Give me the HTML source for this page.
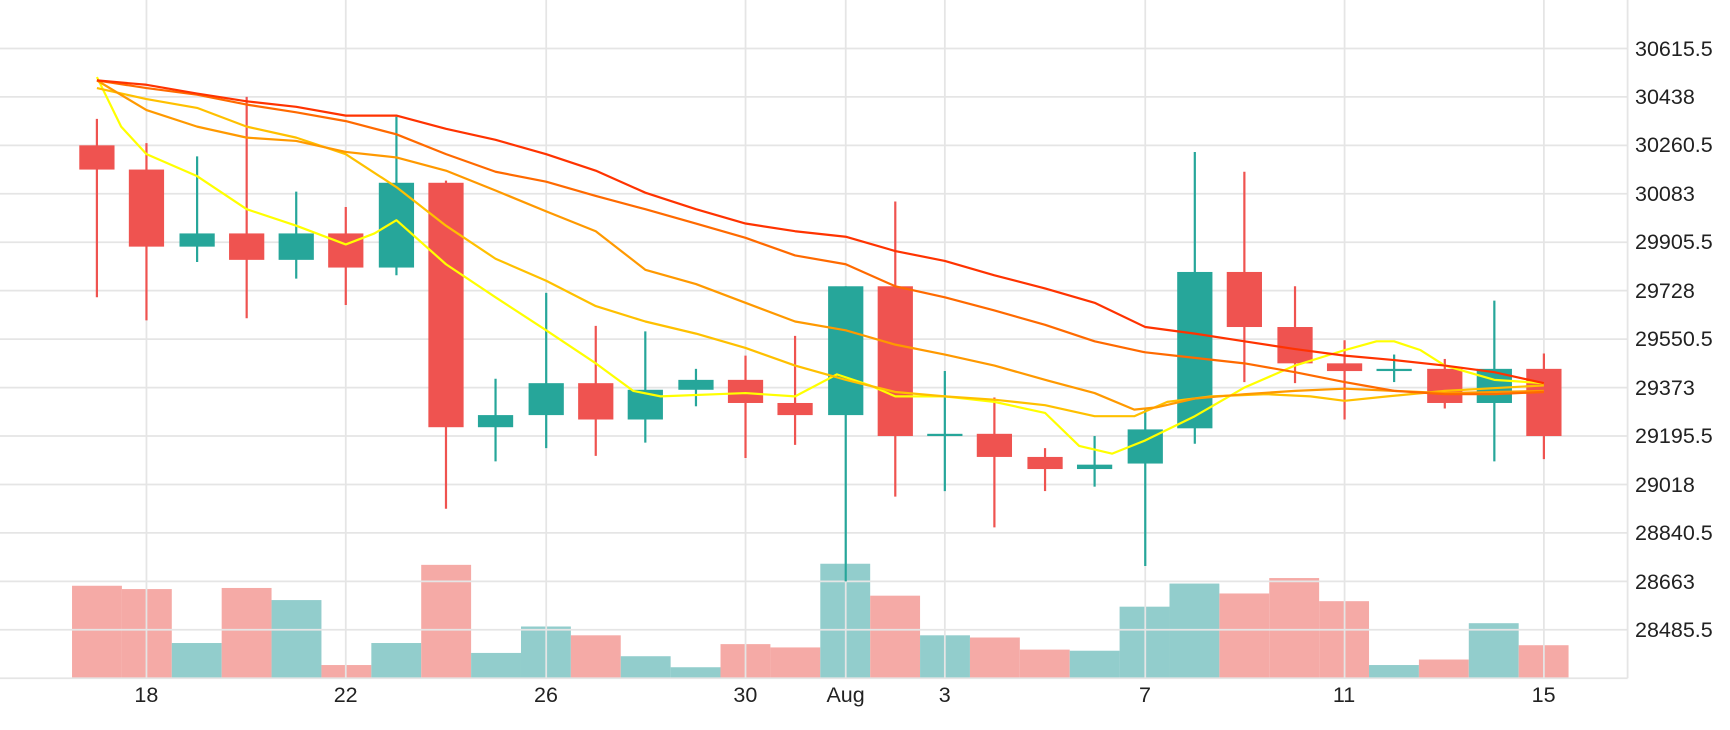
<!DOCTYPE html>
<html><head><meta charset="utf-8"><style>
body{margin:0;background:#fff;width:1730px;height:730px;overflow:hidden;position:relative;font-family:"Liberation Sans",sans-serif}
svg{position:absolute;left:0;top:0}
.yl{position:absolute;left:1635px;font-size:21.5px;color:#222;line-height:22px;margin-top:-11px}
.xl{position:absolute;top:684px;width:60px;margin-left:-30px;text-align:center;font-size:21.5px;color:#222;line-height:22px}
</style></head><body>
<svg width="1730" height="730" viewBox="0 0 1571 663" preserveAspectRatio="none">
<g id="vol">
<rect x="65.4" y="532" width="45.3" height="84" fill="#f5aaa6"/>
<rect x="110.7" y="535" width="45.3" height="81" fill="#f5aaa6"/>
<rect x="156" y="584" width="45.3" height="32" fill="#92cdcc"/>
<rect x="201.3" y="534" width="45.3" height="82" fill="#f5aaa6"/>
<rect x="246.6" y="545" width="45.3" height="71" fill="#92cdcc"/>
<rect x="291.9" y="604" width="45.3" height="12" fill="#f5aaa6"/>
<rect x="337.2" y="584" width="45.3" height="32" fill="#92cdcc"/>
<rect x="382.5" y="513" width="45.3" height="103" fill="#f5aaa6"/>
<rect x="427.8" y="593" width="45.3" height="23" fill="#92cdcc"/>
<rect x="473.1" y="569" width="45.3" height="47" fill="#92cdcc"/>
<rect x="518.4" y="577" width="45.3" height="39" fill="#f5aaa6"/>
<rect x="563.7" y="596" width="45.3" height="20" fill="#92cdcc"/>
<rect x="609" y="606" width="45.3" height="10" fill="#92cdcc"/>
<rect x="654.3" y="585" width="45.3" height="31" fill="#f5aaa6"/>
<rect x="699.6" y="588" width="45.3" height="28" fill="#f5aaa6"/>
<rect x="744.9" y="512" width="45.3" height="104" fill="#92cdcc"/>
<rect x="790.2" y="541" width="45.3" height="75" fill="#f5aaa6"/>
<rect x="835.5" y="577" width="45.3" height="39" fill="#92cdcc"/>
<rect x="880.8" y="579" width="45.3" height="37" fill="#f5aaa6"/>
<rect x="926.1" y="590" width="45.3" height="26" fill="#f5aaa6"/>
<rect x="971.4" y="591" width="45.3" height="25" fill="#92cdcc"/>
<rect x="1016.7" y="551" width="45.3" height="65" fill="#92cdcc"/>
<rect x="1062" y="530" width="45.3" height="86" fill="#92cdcc"/>
<rect x="1107.3" y="539" width="45.3" height="77" fill="#f5aaa6"/>
<rect x="1152.6" y="525" width="45.3" height="91" fill="#f5aaa6"/>
<rect x="1197.9" y="546" width="45.3" height="70" fill="#f5aaa6"/>
<rect x="1243.2" y="604" width="45.3" height="12" fill="#92cdcc"/>
<rect x="1288.5" y="599" width="45.3" height="17" fill="#f5aaa6"/>
<rect x="1333.8" y="566" width="45.3" height="50" fill="#92cdcc"/>
<rect x="1379.1" y="586" width="45.3" height="30" fill="#f5aaa6"/>
</g>
<g stroke="#e5e5e5" stroke-width="1.6" fill="none">
<path d="M0 44H1478M0 88H1478M0 132H1478M0 176H1478M0 220H1478M0 264H1478M0 308H1478M0 352H1478M0 396H1478M0 440H1478M0 484H1478M0 528H1478M0 572H1478M0 616H1478"/>
<path d="M133 0V616M314 0V616M496 0V616M677 0V616M768 0V616M858 0V616M1040 0V616M1221 0V616M1402 0V616M1478 0V616"/>
</g>
<g stroke-width="2">
<line x1="88" y1="108" x2="88" y2="270" stroke="#ef5350"/>
<line x1="133" y1="130" x2="133" y2="291" stroke="#ef5350"/>
<line x1="179" y1="142" x2="179" y2="238" stroke="#26a69a"/>
<line x1="224" y1="88" x2="224" y2="289" stroke="#ef5350"/>
<line x1="269" y1="174" x2="269" y2="253" stroke="#26a69a"/>
<line x1="314" y1="188" x2="314" y2="277" stroke="#ef5350"/>
<line x1="360" y1="106" x2="360" y2="250" stroke="#26a69a"/>
<line x1="405" y1="164" x2="405" y2="462" stroke="#ef5350"/>
<line x1="450" y1="344" x2="450" y2="419" stroke="#26a69a"/>
<line x1="496" y1="266" x2="496" y2="407" stroke="#26a69a"/>
<line x1="541" y1="296" x2="541" y2="414" stroke="#ef5350"/>
<line x1="586" y1="301" x2="586" y2="402" stroke="#26a69a"/>
<line x1="632" y1="335" x2="632" y2="369" stroke="#26a69a"/>
<line x1="677" y1="323" x2="677" y2="416" stroke="#ef5350"/>
<line x1="722" y1="305" x2="722" y2="404" stroke="#ef5350"/>
<line x1="768" y1="260" x2="768" y2="528" stroke="#26a69a"/>
<line x1="813" y1="183" x2="813" y2="451" stroke="#ef5350"/>
<line x1="858" y1="337" x2="858" y2="446" stroke="#26a69a"/>
<line x1="903" y1="361" x2="903" y2="479" stroke="#ef5350"/>
<line x1="949" y1="407" x2="949" y2="446" stroke="#ef5350"/>
<line x1="994" y1="396" x2="994" y2="442" stroke="#26a69a"/>
<line x1="1040" y1="372" x2="1040" y2="514" stroke="#26a69a"/>
<line x1="1085" y1="138" x2="1085" y2="403" stroke="#26a69a"/>
<line x1="1130" y1="156" x2="1130" y2="347" stroke="#ef5350"/>
<line x1="1176" y1="260" x2="1176" y2="348" stroke="#ef5350"/>
<line x1="1221" y1="309" x2="1221" y2="381" stroke="#ef5350"/>
<line x1="1266" y1="322" x2="1266" y2="347" stroke="#26a69a"/>
<line x1="1312" y1="326" x2="1312" y2="371" stroke="#ef5350"/>
<line x1="1357" y1="273" x2="1357" y2="419" stroke="#26a69a"/>
<line x1="1402" y1="321" x2="1402" y2="417" stroke="#ef5350"/>
</g>
<g>
<rect x="72" y="132" width="32" height="22" fill="#ef5350"/>
<rect x="117" y="154" width="32" height="70" fill="#ef5350"/>
<rect x="163" y="212" width="32" height="12" fill="#26a69a"/>
<rect x="208" y="212" width="32" height="24" fill="#ef5350"/>
<rect x="253" y="212" width="32" height="24" fill="#26a69a"/>
<rect x="298" y="212" width="32" height="31" fill="#ef5350"/>
<rect x="344" y="166" width="32" height="77" fill="#26a69a"/>
<rect x="389" y="166" width="32" height="222" fill="#ef5350"/>
<rect x="434" y="377" width="32" height="11" fill="#26a69a"/>
<rect x="480" y="348" width="32" height="29" fill="#26a69a"/>
<rect x="525" y="348" width="32" height="33" fill="#ef5350"/>
<rect x="570" y="354" width="32" height="27" fill="#26a69a"/>
<rect x="616" y="345" width="32" height="9" fill="#26a69a"/>
<rect x="661" y="345" width="32" height="21" fill="#ef5350"/>
<rect x="706" y="366" width="32" height="11" fill="#ef5350"/>
<rect x="752" y="260" width="32" height="117" fill="#26a69a"/>
<rect x="797" y="260" width="32" height="136" fill="#ef5350"/>
<rect x="842" y="394" width="32" height="2" fill="#26a69a"/>
<rect x="887" y="394" width="32" height="21" fill="#ef5350"/>
<rect x="933" y="415" width="32" height="11" fill="#ef5350"/>
<rect x="978" y="422" width="32" height="4" fill="#26a69a"/>
<rect x="1024" y="390" width="32" height="31" fill="#26a69a"/>
<rect x="1069" y="247" width="32" height="142" fill="#26a69a"/>
<rect x="1114" y="247" width="32" height="50" fill="#ef5350"/>
<rect x="1160" y="297" width="32" height="33" fill="#ef5350"/>
<rect x="1205" y="330" width="32" height="7" fill="#ef5350"/>
<rect x="1250" y="335" width="32" height="2" fill="#26a69a"/>
<rect x="1296" y="335" width="32" height="31" fill="#ef5350"/>
<rect x="1341" y="335" width="32" height="31" fill="#26a69a"/>
<rect x="1386" y="335" width="32" height="61" fill="#ef5350"/>
</g>
<g fill="none" stroke-width="2" stroke-linejoin="round">
<polyline stroke="#ffff00" points="88,70 110,115 133,140 179,160 224,190 269,205 314,222 340,212 360,200 405,240 450,270 496,300 541,330 575,355 600,360 677,357 722,360 760,340 790,350 813,360 858,360 903,365 949,375 980,405 1010,412 1040,400 1085,378 1130,352 1176,332 1221,318 1250,310 1266,310 1290,318 1312,332 1357,345 1402,348"/>
<polyline stroke="#ffc000" points="88,80 133,90 179,98 224,115 269,125 314,140 360,170 405,205 450,235 496,255 541,278 586,292 632,303 677,316 722,332 768,345 813,356 858,360 903,363 949,368 994,378 1030,378 1060,365 1100,360 1150,358 1190,360 1221,364 1260,360 1312,355 1402,350"/>
<polyline stroke="#ff9900" points="88,73 133,100 179,115 224,125 269,128 314,138 360,143 405,155 450,173 496,192 541,210 586,245 632,258 677,275 722,292 768,300 813,313 858,322 903,332 949,345 994,357 1030,372 1050,370 1085,362 1130,358 1176,355 1221,353 1266,355 1312,357 1402,355"/>
<polyline stroke="#ff6a00" points="88,73 133,80 179,86 224,95 269,102 314,110 360,122 405,140 450,156 496,165 541,178 586,190 632,203 677,216 722,232 768,240 813,260 858,270 903,282 949,295 994,310 1040,320 1085,325 1130,330 1176,338 1221,347 1266,355 1312,358 1357,358 1402,356"/>
<polyline stroke="#ff3300" points="88,73 133,77 179,85 224,92 269,97 314,105 360,105 405,117 450,127 496,140 541,155 586,175 632,190 677,203 722,210 768,215 813,228 858,237 903,250 949,262 994,275 1040,297 1085,303 1130,310 1176,317 1221,323 1266,327 1312,332 1357,338 1402,348"/>
</g>
</svg>
<div class="yl" style="top:48.5px">30615.5</div>
<div class="yl" style="top:97px">30438</div>
<div class="yl" style="top:145.4px">30260.5</div>
<div class="yl" style="top:193.9px">30083</div>
<div class="yl" style="top:242.3px">29905.5</div>
<div class="yl" style="top:290.8px">29728</div>
<div class="yl" style="top:339.3px">29550.5</div>
<div class="yl" style="top:387.7px">29373</div>
<div class="yl" style="top:436.2px">29195.5</div>
<div class="yl" style="top:484.6px">29018</div>
<div class="yl" style="top:533.1px">28840.5</div>
<div class="yl" style="top:581.6px">28663</div>
<div class="yl" style="top:630px">28485.5</div>
<div class="xl" style="left:146.4px">18</div>
<div class="xl" style="left:345.7px">22</div>
<div class="xl" style="left:546px">26</div>
<div class="xl" style="left:745.4px">30</div>
<div class="xl" style="left:845.6px">Aug</div>
<div class="xl" style="left:944.7px">3</div>
<div class="xl" style="left:1145px">7</div>
<div class="xl" style="left:1344px">11</div>
<div class="xl" style="left:1543.6px">15</div>
</body></html>
